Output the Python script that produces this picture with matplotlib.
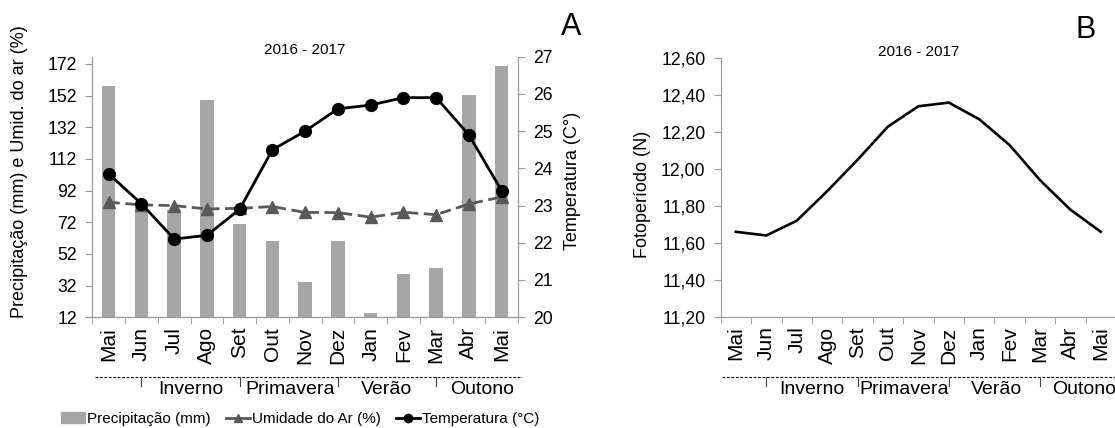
import matplotlib
matplotlib.use('Agg')
import matplotlib.pyplot as plt
import matplotlib.transforms as mtransforms
from matplotlib.lines import Line2D
from matplotlib.patches import Patch
import numpy as np

plt.rcParams.update({'font.family': ['Liberation Sans', 'DejaVu Sans'], 'font.size': 12})

MONTHS = ['Mai', 'Jun', 'Jul', 'Ago', 'Set', 'Out', 'Nov', 'Dez', 'Jan', 'Fev', 'Mar', 'Abr', 'Mai']
precip = [158.4, 82, 80, 149, 71, 60, 34, 60, 14.5, 39.6, 43, 152.5, 171]
umidade = [84.6, 83.0, 82.5, 80.4, 80.8, 81.9, 78.2, 78.1, 75.2, 78.3, 76.8, 83.5, 88.0]
temperatura = [23.85, 23.05, 22.1, 22.2, 22.9, 24.5, 25.0, 25.6, 25.7, 25.9, 25.9, 24.9, 23.4]
fotoperiodo = [11.66, 11.64, 11.72, 11.88, 12.05, 12.23, 12.34, 12.36, 12.27, 12.13, 11.94, 11.78, 11.66]

SEASONS = ['Inverno', 'Primavera', 'Verão', 'Outono']
SEASON_BOUNDS = [1, 4, 7, 10]

SPINE = '#999999'
BAR = '#a6a6a6'
HUM = '#595959'

W, H = 1115, 428
fig = plt.figure(figsize=(W / 100, H / 100), dpi=100)


def px_axes(l, t, r, b):
    return fig.add_axes([l / W, 1 - b / H, (r - l) / W, (b - t) / H])


def style_x(ax, season_x, line_x):
    x = np.arange(len(MONTHS))
    ax.set_xlim(-0.5, len(MONTHS) - 0.5)
    ax.set_xticks(x)
    ax.set_xticklabels(MONTHS, rotation=90, fontsize=15)
    ax.tick_params(axis='x', which='major', length=0, pad=7)
    ax.set_xticks(np.arange(-0.5, len(MONTHS)), minor=True)
    ax.tick_params(axis='x', which='minor', length=5, color=SPINE)
    ax.spines['top'].set_visible(False)
    for s in ['left', 'bottom', 'right']:
        ax.spines[s].set_color(SPINE)
    ax.tick_params(axis='y', length=5, color=SPINE, labelsize=12.7, pad=6)
    # season band under the month labels
    tr = mtransforms.blended_transform_factory(ax.transData, fig.transFigure)
    y_line = 1 - 376.7 / H
    ax.plot(line_x, [y_line, y_line], transform=tr, color='black', ls=(0, (2.5, 1.5)),
            lw=0.8, clip_on=False)
    for b in SEASON_BOUNDS:
        ax.plot([b, b], [y_line, 1 - 386 / H], transform=tr, color='#444444', lw=0.8, clip_on=False)
    for name, sx in zip(SEASONS, season_x):
        ax.text(sx, 1 - 390 / H, name, transform=tr, ha='center', va='center', fontsize=14)


# ---- panel A
ax = px_axes(92.3, 56.7, 518, 317.2)
x = np.arange(len(MONTHS))
ax.bar(x, precip, width=0.41, color=BAR, zorder=1)
ax.plot(x, umidade, color=HUM, ls=(0, (4, 2)), lw=2, marker='^', ms=8, mfc=HUM, mec=HUM, zorder=2)
ax.set_ylim(12, 176.6)
ax.set_yticks(np.arange(12, 173, 20))
style_x(ax, [2.5, 5.55, 8.5, 11.4], [-0.42, 12.61])
ax.set_ylabel('Precipitação (mm) e Umid. do ar (%)', fontsize=13, va='center')
ax.yaxis.set_label_coords(-0.172, 0.557)
ax.text(0.5, 1.01, '2016 - 2017', transform=ax.transAxes, ha='center', va='baseline', fontsize=11)

ax2 = ax.twinx()
ax2.plot(x, temperatura, color='black', lw=2, marker='o', ms=8.5, zorder=3)
ax2.set_ylim(20, 27)
ax2.set_yticks(np.arange(20, 28, 1))
ax2.spines['top'].set_visible(False)
for s in ['left', 'bottom', 'right']:
    ax2.spines[s].set_color(SPINE)
ax2.tick_params(axis='y', length=5, color=SPINE, labelsize=12.7, pad=6)
ax2.set_ylabel('Temperatura (C°)', fontsize=13, va='center')
ax2.yaxis.set_label_coords(1.127, 0.523)

fig.text(571 / W, 1 - 27 / H, 'A', ha='center', va='center', fontsize=22)

handles = [Patch(color=BAR),
           Line2D([], [], color=HUM, lw=2, marker='^', ms=6),
           Line2D([], [], color='black', lw=2, marker='o', ms=6)]
labels = ['Precipitação (mm)', 'Umidade do Ar (%)', 'Temperatura (°C)']
fig.legend(handles, labels, loc='center', bbox_to_anchor=(300 / W, 1 - 419 / H), ncol=3,
           frameon=False, fontsize=11, handlelength=1.6, handletextpad=0.1, columnspacing=1.0)

# ---- panel B
bx = px_axes(720.7, 58.3, 1116, 316.7)
bx.plot(x, fotoperiodo, color='black', lw=1.9)
bx.set_ylim(11.2, 12.6)
bx.set_yticks(np.arange(11.2, 12.61, 0.2))
bx.set_yticklabels([f'{v:.2f}'.replace('.', ',') for v in np.arange(11.2, 12.61, 0.2)])
style_x(bx, [2.5, 5.52, 8.57, 11.45], [-0.47, 12.6])
bx.spines['right'].set_visible(False)
bx.set_ylabel('Fotoperíodo (N)', fontsize=13, va='center')
bx.yaxis.set_label_coords(-0.197, 0.473)
bx.text(0.5, 1.01, '2016 - 2017', transform=bx.transAxes, ha='center', va='baseline', fontsize=11)
fig.text(1086 / W, 1 - 30 / H, 'B', ha='center', va='center', fontsize=22)

fig.savefig('out.png', dpi=100)
